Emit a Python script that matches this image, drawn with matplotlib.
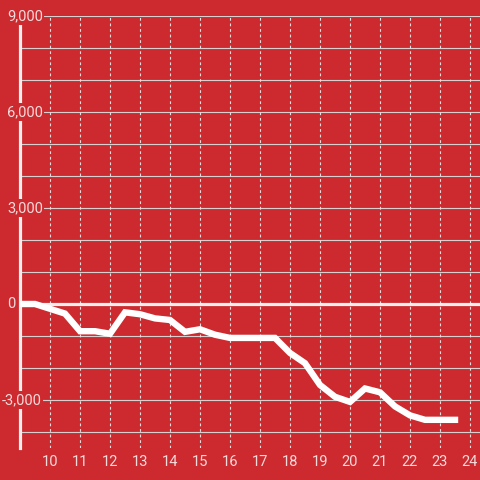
import matplotlib
matplotlib.use('Agg')
import matplotlib.pyplot as plt
import matplotlib.transforms as mtransforms

# data
hours = [9, 9.5, 10, 10.5, 11, 11.5, 12, 12.5, 13, 13.5, 14, 14.5, 15, 15.5, 16,
         16.5, 17, 17.5, 18, 18.5, 19, 19.5, 20, 20.5, 21, 21.5, 22, 22.5, 23, 23.5]
values = [0, 0, -150, -300, -850, -850, -930, -260, -320, -450, -500, -870, -790, -960, -1060,
          -1060, -1060, -1060, -1530, -1850, -2530, -2900, -3060, -2640, -2760, -3200, -3480, -3620, -3620, -3620]
x_ticks = list(range(10, 25))
y_label_ticks = [9000, 6000, 3000, 0, -3000]
y_grid = list(range(-4000, 9001, 1000))

bg = '#cd2a2f'
txt = '#f3dadb'
plt.rcParams['font.family'] = ['Roboto', 'DejaVu Sans']

fig = plt.figure(figsize=(4.8, 4.8), dpi=100, facecolor=bg)
ax = fig.add_axes([20/480, 32/480, 460/480, 432/480])
ax.set_facecolor(bg)
ax.set_xlim(9, 9 + 460/30)
ax.set_ylim(-4500, 9000)

# grid
for v in y_grid:
    if v != 0:
        ax.axhline(v, color='#d6d0d0', lw=0.8, zorder=1)
for x in x_ticks:
    ax.axvline(x, color='#e6dede', lw=0.8, ls=(0, (2.5, 2.5)), zorder=1)
ax.axhline(0, color='#f4eeee', lw=2.3, zorder=2)

ax.plot(hours, values, color='white', lw=4.6, solid_joinstyle='miter', zorder=3)

for s in ['top', 'right', 'bottom']:
    ax.spines[s].set_visible(False)
ax.spines['left'].set_color('#f4eeee')
ax.spines['left'].set_linewidth(2.3)

ax.set_xticks(x_ticks)
ax.set_xticklabels([str(x) for x in x_ticks])
ax.set_yticks([])
ax.tick_params(axis='x', length=0, pad=5, labelsize=10.5, labelcolor=txt)

# y labels sit over the axis line, left-aligned
trans = mtransforms.blended_transform_factory(fig.transFigure, ax.transData)
for v in y_label_ticks:
    x0 = 7/480 if v >= 0 else 2/480
    ax.text(x0, v, f'{v:,}', transform=trans, ha='left', va='center',
            fontsize=10.5, color=txt, zorder=5, clip_on=False,
            bbox=dict(facecolor=bg, edgecolor='none', pad=1.2))

fig.savefig('out.png', dpi=100, facecolor=bg)
